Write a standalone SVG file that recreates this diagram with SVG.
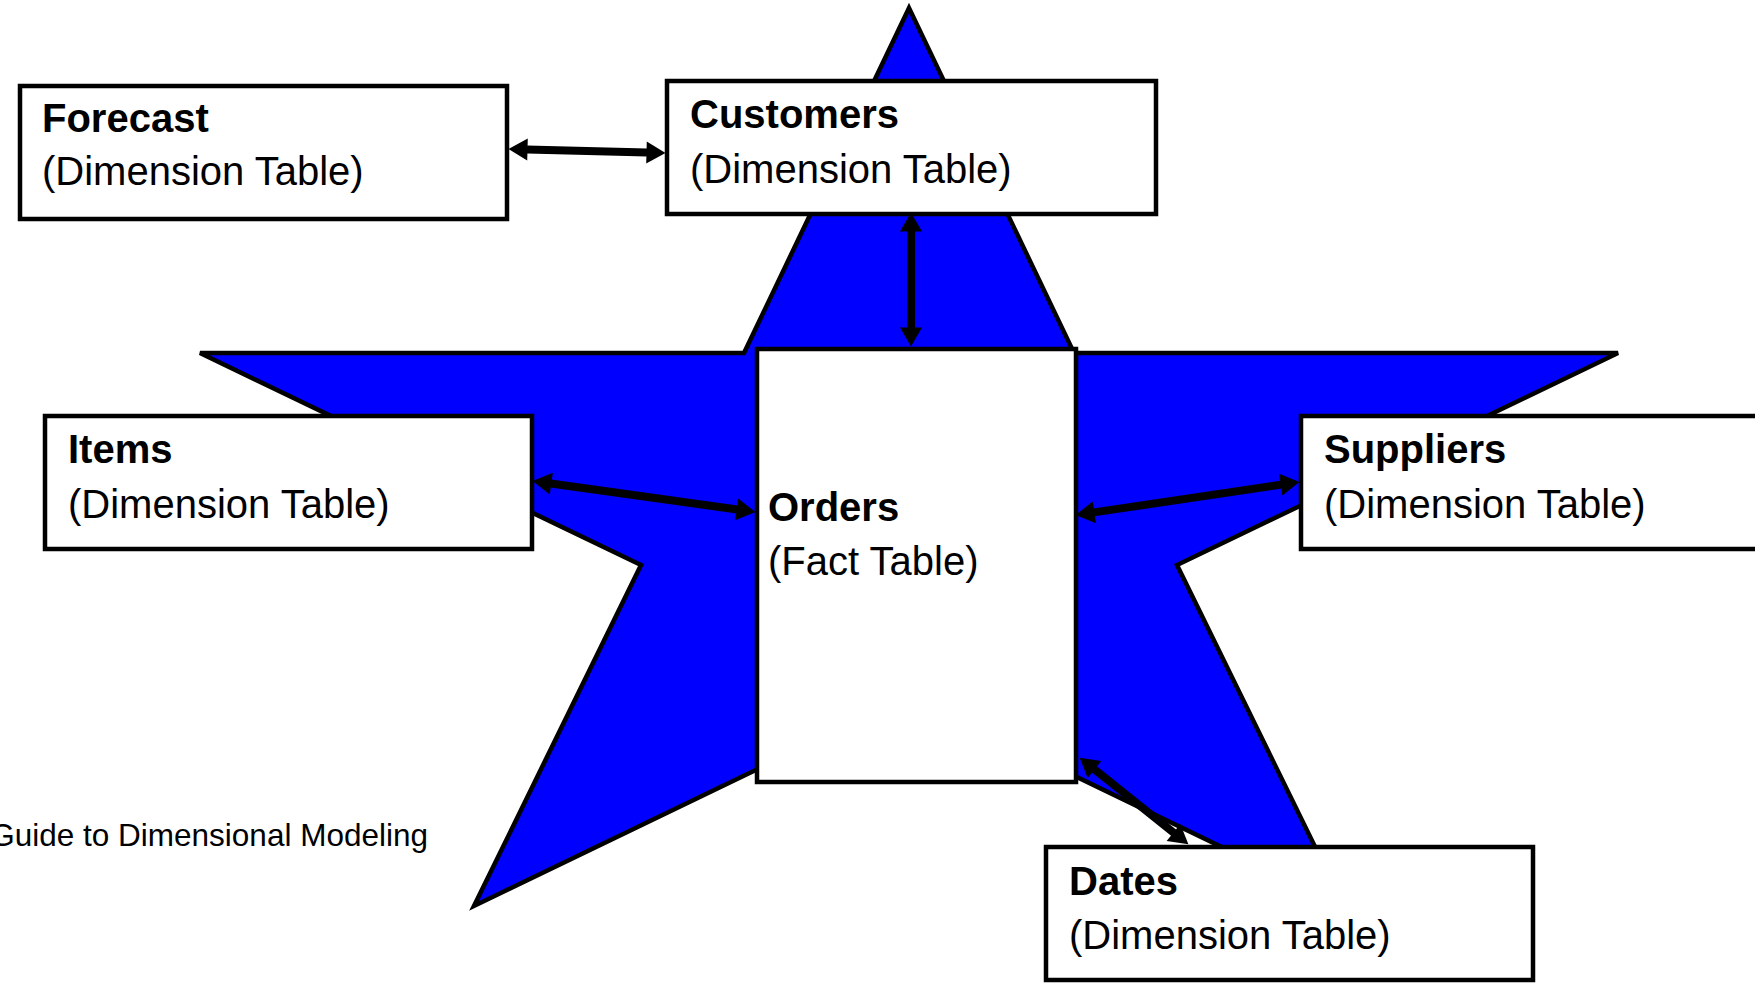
<svg xmlns="http://www.w3.org/2000/svg" width="1755" height="985" viewBox="0 0 1755 985">
<style>
.box{fill:#fff;stroke:#000;stroke-width:4.5}
.t{font-family:"Liberation Sans",Arial,sans-serif;font-size:40px;fill:#000}
.b{font-weight:bold}
.c{stroke:#000;stroke-width:8;fill:none;marker-start:url(#ah);marker-end:url(#ah)}
</style>
<defs>
<marker id="ah" markerUnits="userSpaceOnUse" viewBox="0 -11 19 22" refX="0.5" refY="0" markerWidth="19" markerHeight="22" orient="auto-start-reverse" overflow="visible">
<path d="M0,-11 L19,0 L0,11 Z" fill="#000"/>
</marker>
</defs>
<rect width="1755" height="985" fill="#fff"/>
<g id="star">
<polygon points="909,8 1074,353 1618,353 1177,565 1344,906 909,696 474,906 641,565 200,353 744,353" fill="#0000ff" stroke="#000" stroke-width="4.5" stroke-linejoin="miter"/>
</g>
<g id="caption">
<text class="t" x="428" y="846" text-anchor="end" style="font-size:31.5px">Guide to Dimensional Modeling</text>
</g>
<g id="forecast">
<rect class="box" x="20" y="86" width="487" height="133"/>
<text class="t b" x="42" y="132">Forecast</text>
<text class="t" x="42" y="185">(Dimension Table)</text>
</g>
<g id="customers">
<rect class="box" x="667" y="81" width="489" height="133"/>
<text class="t b" x="690" y="128">Customers</text>
<text class="t" x="690" y="183">(Dimension Table)</text>
</g>
<g id="orders">
<rect class="box" x="757" y="349" width="319" height="433"/>
<text class="t b" x="768" y="521">Orders</text>
<text class="t" x="768" y="575">(Fact Table)</text>
</g>
<g id="items">
<rect class="box" x="45" y="416" width="487" height="133"/>
<text class="t b" x="68" y="463">Items</text>
<text class="t" x="68" y="518">(Dimension Table)</text>
</g>
<g id="suppliers">
<rect class="box" x="1301" y="416" width="489" height="133"/>
<text class="t b" x="1324" y="463">Suppliers</text>
<text class="t" x="1324" y="518">(Dimension Table)</text>
</g>
<g id="dates">
<rect class="box" x="1046" y="847" width="487" height="133"/>
<text class="t b" x="1069" y="895">Dates</text>
<text class="t" x="1069" y="949">(Dimension Table)</text>
</g>
<g id="connectors">
<line class="c" x1="527" y1="149.5" x2="647" y2="152.5"/>
<line class="c" x1="911" y1="231" x2="911" y2="328"/>
<line class="c" x1="550.8" y1="483.5" x2="737.2" y2="509.5"/>
<line class="c" x1="1093.8" y1="512.4" x2="1281.2" y2="484.6"/>
<line class="c" x1="1094.1" y1="769.2" x2="1173.9" y2="832.8"/>
</g>
</svg>
